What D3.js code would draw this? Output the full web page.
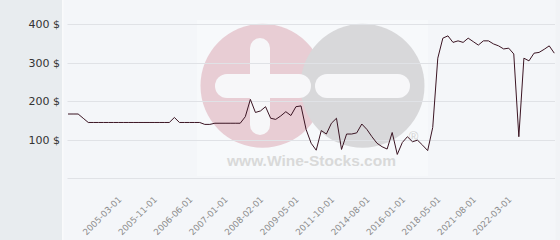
<!DOCTYPE html>
<html>
<head>
<meta charset="utf-8">
<script src="https://cdn.jsdelivr.net/npm/d3@7"></script>
<style>
html,body{margin:0;padding:0;background:#f4f6f9;}
svg{display:block;}
</style>
</head>
<body>
<svg id="chart" width="560" height="240"></svg>
<script>
// ---- data ----
const prices = [
  167,167,167,156,145,145,145,145,145,145,
  145,145,145,145,145,145,145,145,145,145,
  145,158,145,145,145,145,145,140,140,143,
  143,143,143,143,143,160,205,171,175,186,
  156,153,162,173,163,186,188,127,91,73,
  124,115,143,156,75,115,115,118,141,127,
  108,91,82,76,119,62,93,108,95,99,
  86,72,132,312,364,370,353,357,353,364,
  355,346,357,357,349,344,336,338,323,108,
  312,305,325,327,335,344,325
];
const tickIndices = [10,17,24,31,38,45,52,59,66,73,80,87];
const tickLabels = ["2005-03-01","2005-11-01","2006-06-01","2007-01-01","2008-02-01","2009-05-01",
                    "2011-10-01","2014-08-01","2016-01-01","2018-05-01","2021-08-01","2022-03-01"];
const yTicks = [100,200,300,400];
const yGrid = [0,100,200,300,400];
const watermarkText = "www.Wine-Stocks.com";

// ---- chart ----
const svg = d3.select("#chart");
const W = 560, H = 240;

svg.append("rect").attr("x",0).attr("y",0).attr("width",W).attr("height",H).attr("fill","#f4f6f9");
svg.append("rect").attr("x",0).attr("y",0).attr("width",62).attr("height",H).attr("fill","#e8ecef");
svg.append("rect").attr("x",62).attr("y",0).attr("width",1.5).attr("height",H).attr("fill","#f9fafb");
svg.append("rect").attr("x",555.5).attr("y",0).attr("width",4.5).attr("height",H).attr("fill","#f1f3f6");

const idx = d3.range(prices.length);
const x = d3.scalePoint().domain(idx).range([68, 554.3]);
const y = d3.scaleLinear().domain([0, 400]).range([178.3, 24.3]);

// watermark
const wm = svg.append("g");
wm.append("rect").attr("x",197).attr("y",20).attr("width",231).attr("height",156).attr("fill","#ffffff").attr("opacity",0.3);
wm.append("circle").attr("cx",262.5).attr("cy",85.8).attr("r",62).attr("fill","#e8cdd4");
wm.append("circle").attr("cx",362.5).attr("cy",85.8).attr("r",62).attr("fill","#d8d8da");
// plus cut-out
wm.append("rect").attr("x",250).attr("y",38).attr("width",20).attr("height",97).attr("rx",10).attr("fill","#f7f7f9");
wm.append("rect").attr("x",215).attr("y",74).attr("width",96).attr("height",24).attr("rx",12).attr("fill","#f7f7f9");
// minus cut-out
wm.append("rect").attr("x",315).attr("y",74).attr("width",95).attr("height",24).attr("rx",12).attr("fill","#f7f7f9");
wm.append("text").attr("x",311.5).attr("y",165.5).attr("text-anchor","middle")
  .attr("font-family","Liberation Sans, Arial, sans-serif").attr("font-weight","bold").attr("font-size",15.5)
  .attr("fill","#d9d9d9").text(watermarkText);
wm.append("text").attr("x",413.5).attr("y",141).attr("text-anchor","middle")
  .attr("font-family","Liberation Sans, Arial, sans-serif").attr("font-size",13)
  .attr("fill","#d2d2d2").text("®");

// grid lines
svg.append("g").selectAll("line").data(yGrid).join("line")
  .attr("x1",67.5).attr("x2",555)
  .attr("y1",d=>Math.round(y(d))+0.5).attr("y2",d=>Math.round(y(d))+0.5)
  .attr("stroke","#e0e2e6").attr("stroke-width",1);

// y axis labels
const yAxis = d3.axisLeft(y).tickValues(yTicks).tickSize(0).tickPadding(0).tickFormat(d=>d+" $");
const gy = svg.append("g").attr("transform","translate(60,0)").call(yAxis);
gy.select(".domain").remove();
gy.selectAll("text").attr("font-family","DejaVu Sans, sans-serif").attr("font-size",11).attr("fill","#333");

// x axis labels
const xAxis = d3.axisBottom(x).tickValues(tickIndices).tickSize(0)
  .tickFormat(d=>tickLabels[tickIndices.indexOf(d)]);
const gx = svg.append("g").attr("transform","translate(3,200)").call(xAxis);
gx.select(".domain").remove();
gx.selectAll("text")
  .attr("font-family","DejaVu Sans, sans-serif").attr("font-size",8.7).attr("fill","#8a8a8a")
  .attr("text-anchor","end").attr("dy",0).attr("y",0)
  .attr("transform","rotate(-45)");

// price line
const line = d3.line().x((d,i)=>x(i)).y(d=>y(d));
svg.append("path").datum(prices).attr("d",line)
  .attr("fill","none").attr("stroke","#3b1523").attr("stroke-width",1).attr("stroke-linejoin","miter");
</script>
</body>
</html>
